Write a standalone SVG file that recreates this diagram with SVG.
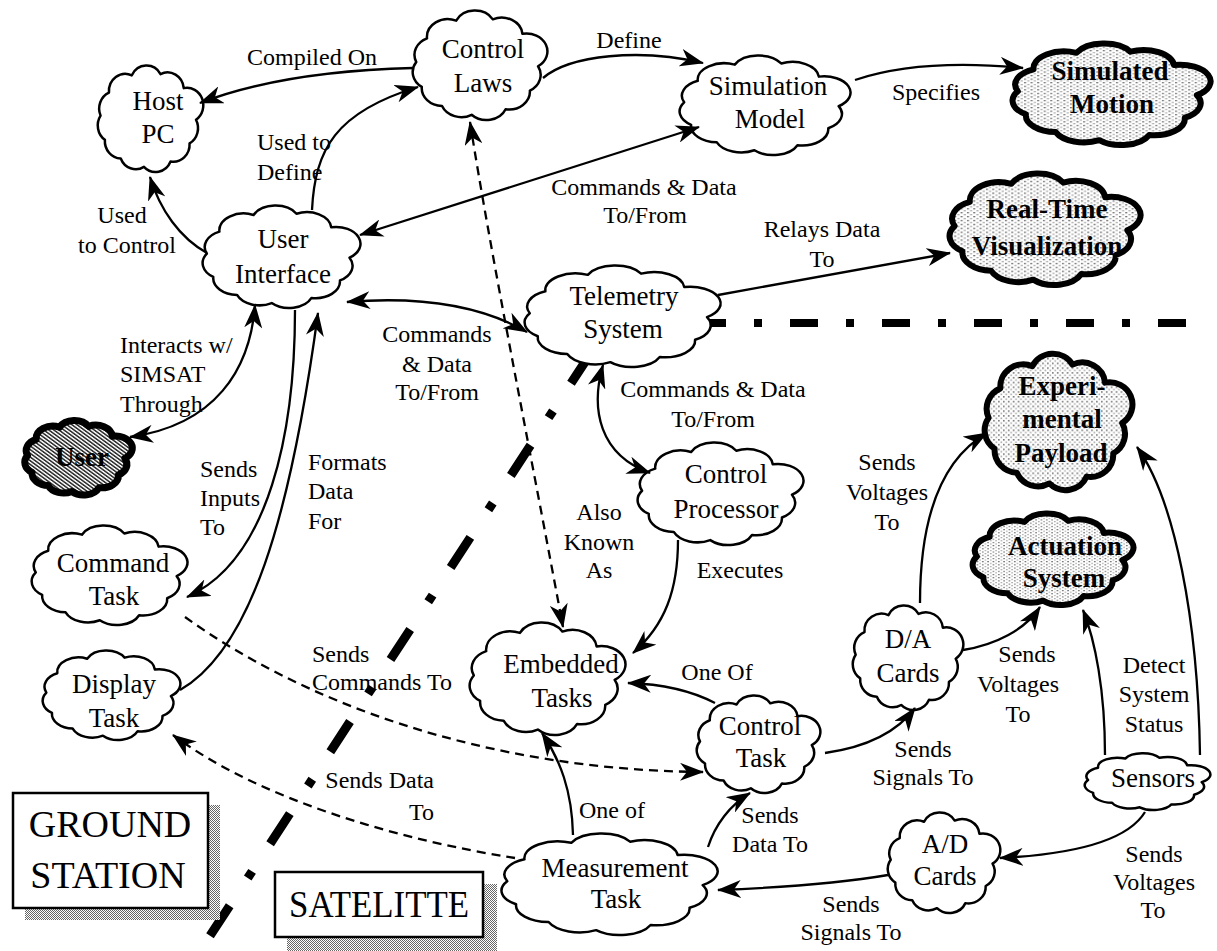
<svg xmlns="http://www.w3.org/2000/svg" xmlns:xlink="http://www.w3.org/1999/xlink" width="1217" height="951" viewBox="0 0 1217 951">
  <style>
    .cl { fill:#fff; stroke:#000; stroke-width:2.5; }
    .cb { fill:url(#stip); stroke:#000; stroke-width:6; }
    .cu { fill:url(#hatch); stroke:#000; stroke-width:7; }
    .c { fill:none; stroke:#000; stroke-width:2.3; }
    .d { stroke-dasharray:9 6; }
    .e { marker-end:url(#ah); }
    .b { marker-start:url(#ah); marker-end:url(#ah); }
    text { font-family:"Liberation Serif", "Times New Roman", serif; fill:#000; }
    .n { font-size:27px; text-anchor:middle; }
    .nb { font-size:27px; font-weight:bold; text-anchor:middle; }
    .l { font-size:24px; text-anchor:middle; }
    .ls { font-size:24px; text-anchor:start; }
    .le { font-size:24px; text-anchor:end; }
    .big { font-size:38px; text-anchor:middle; }
    .box { fill:#fff; stroke:#000; stroke-width:2.5; }
  </style>
  <defs>
    <symbol id="cloud" viewBox="7 6 90 86" preserveAspectRatio="none" overflow="visible">
      <path vector-effect="non-scaling-stroke" stroke-linejoin="round"
        d="M91,50 A14,14 0 0 1 85.5,69 A14,14 0 0 1 69.2,83.6 A14,14 0 0 1 46.4,87.9 A14,14 0 0 1 26.5,81.1 A14,14 0 0 1 12.9,66.1 A14,14 0 0 1 9.2,46.7 A14,14 0 0 1 16.4,28.2 A14,14 0 0 1 36,14.3 A14,14 0 0 1 60.6,13.3 A14,14 0 0 1 80.5,24.6 A14,14 0 0 1 91,50 Z"/>
    </symbol>
    <pattern id="stip" width="3" height="3" patternUnits="userSpaceOnUse">
      <rect width="3" height="3" fill="#fff"/>
      <rect width="1" height="1" fill="#777"/>
      <rect x="1.5" y="1.5" width="1" height="1" fill="#aaa"/>
    </pattern>
    <pattern id="hatch" width="3" height="3" patternUnits="userSpaceOnUse" patternTransform="rotate(-45)">
      <rect width="3" height="3" fill="#fff"/>
      <rect width="1.6" height="3" fill="#333"/>
    </pattern>
    <pattern id="shade" width="2" height="2" patternUnits="userSpaceOnUse">
      <rect width="2" height="2" fill="#fff"/>
      <rect width="1" height="1" fill="#666"/>
      <rect x="1" y="1" width="1" height="1" fill="#666"/>
    </pattern>
    <marker id="ah" viewBox="0 0 24 18" refX="23" refY="9" markerWidth="24" markerHeight="18" markerUnits="userSpaceOnUse" orient="auto-start-reverse">
      <path d="M0,0 L24,9 L0,18 L7,9 Z" fill="#000"/>
    </marker>
  </defs>

  <!-- ground / satellite boundary -->
  <g id="boundary" fill="none" stroke="#000">
    <path d="M698,323 H1190" stroke-width="8" stroke-dasharray="28 28 8 28"/>
    <path d="M590.7,353.2 L210,935.8" stroke-width="9" stroke-dasharray="36 33 8 33"/>
  </g>

  <!-- region labels -->
  <g id="ground-station">
    <rect x="25" y="805" width="195" height="115" fill="url(#shade)"/>
    <rect class="box" x="13" y="793" width="195" height="115"/>
    <text class="big" x="110" y="837">GROUND</text>
    <text class="big" x="108" y="888">STATION</text>
  </g>
  <g id="satellite">
    <rect x="287" y="884" width="210" height="67" fill="url(#shade)"/>
    <rect class="box" x="275" y="872" width="208" height="65"/>
    <text class="big" x="379" y="917" textLength="180" lengthAdjust="spacingAndGlyphs">SATELITTE</text>
  </g>

  <!-- nodes -->
  <g id="host-pc">
    <use href="#cloud" class="cl" x="98" y="65" width="105" height="107"/>
    <text class="n" x="158" y="110">Host</text>
    <text class="n" x="158" y="143">PC</text>
  </g>
  <g id="control-laws">
    <use href="#cloud" class="cl" x="413" y="10" width="134" height="110"/>
    <text class="n" x="483" y="58">Control</text>
    <text class="n" x="483" y="92">Laws</text>
  </g>
  <g id="simulation-model">
    <use href="#cloud" class="cl" x="680" y="55" width="170" height="100"/>
    <text class="n" x="768" y="95">Simulation</text>
    <text class="n" x="770" y="128">Model</text>
  </g>
  <g id="simulated-motion">
    <use href="#cloud" class="cb" x="1013" y="43" width="197" height="102"/>
    <text class="nb" x="1110" y="80">Simulated</text>
    <text class="nb" x="1112" y="113">Motion</text>
  </g>
  <g id="user-interface">
    <use href="#cloud" class="cl" x="203" y="205" width="157" height="103"/>
    <text class="n" x="283" y="248">User</text>
    <text class="n" x="283" y="283">Interface</text>
  </g>
  <g id="real-time-visualization">
    <use href="#cloud" class="cb" x="950" y="173" width="190" height="112"/>
    <text class="nb" x="1047" y="218">Real-Time</text>
    <text class="nb" x="1047" y="255">Visualization</text>
  </g>
  <g id="telemetry-system">
    <use href="#cloud" class="cl" x="525" y="265" width="195" height="102"/>
    <text class="n" x="624" y="305">Telemetry</text>
    <text class="n" x="623" y="338">System</text>
  </g>
  <g id="user">
    <use href="#cloud" class="cu" x="25" y="420" width="107" height="75"/>
    <text class="nb" x="82" y="466" font-size="28">User</text>
  </g>
  <g id="command-task">
    <use href="#cloud" class="cl" x="32" y="525" width="155" height="100"/>
    <text class="n" x="113" y="572">Command</text>
    <text class="n" x="114" y="605">Task</text>
  </g>
  <g id="control-processor">
    <use href="#cloud" class="cl" x="638" y="442" width="165" height="103"/>
    <text class="n" x="726" y="483">Control</text>
    <text class="n" x="726" y="518">Processor</text>
  </g>
  <g id="experimental-payload">
    <use href="#cloud" class="cb" x="985" y="353" width="147" height="137"/>
    <text class="nb" x="1062" y="395">Experi-</text>
    <text class="nb" x="1062" y="428">mental</text>
    <text class="nb" x="1061" y="462">Payload</text>
  </g>
  <g id="actuation-system">
    <use href="#cloud" class="cb" x="973" y="513" width="160" height="92"/>
    <text class="nb" x="1065" y="555">Actuation</text>
    <text class="nb" x="1064" y="587">System</text>
  </g>
  <g id="display-task">
    <use href="#cloud" class="cl" x="43" y="650" width="137" height="90"/>
    <text class="n" x="114" y="693">Display</text>
    <text class="n" x="114" y="727">Task</text>
  </g>
  <g id="embedded-tasks">
    <use href="#cloud" class="cl" x="470" y="622" width="155" height="113"/>
    <text class="n" x="561" y="673">Embedded</text>
    <text class="n" x="562" y="707">Tasks</text>
  </g>
  <g id="da-cards">
    <use href="#cloud" class="cl" x="853" y="605" width="110" height="105"/>
    <text class="n" x="908" y="648">D/A</text>
    <text class="n" x="908" y="682">Cards</text>
  </g>
  <g id="control-task">
    <use href="#cloud" class="cl" x="697" y="695" width="123" height="98"/>
    <text class="n" x="760" y="735">Control</text>
    <text class="n" x="761" y="767">Task</text>
  </g>
  <g id="sensors">
    <use href="#cloud" class="cl" x="1085" y="753" width="125" height="57"/>
    <text class="n" x="1153" y="787">Sensors</text>
  </g>
  <g id="ad-cards">
    <use href="#cloud" class="cl" x="888" y="812" width="112" height="101"/>
    <text class="n" x="945" y="853">A/D</text>
    <text class="n" x="945" y="885">Cards</text>
  </g>
  <g id="measurement-task">
    <use href="#cloud" class="cl" x="502" y="833" width="215" height="102"/>
    <text class="n" x="615" y="877">Measurement</text>
    <text class="n" x="616" y="908">Task</text>
  </g>

  <!-- connectors -->
  <g id="connectors">
    <path class="c e" d="M413,68 C330,70 260,80 200,103"/>
    <path class="c e" d="M543,78 C570,55 640,48 703,63"/>
    <path class="c e" d="M855,80 C900,65 960,62 1023,68"/>
    <path class="c e" d="M312,210 C315,150 335,112 418,87"/>
    <path class="c e" d="M207,253 C180,238 160,210 150,177"/>
    <path class="c b" d="M360,235 L699,127"/>
    <path class="c b" d="M347,302 C420,296 480,305 527,332"/>
    <path class="c e" d="M718,295 L950,253"/>
    <path class="c d b" d="M470,122 C490,250 530,450 563,627"/>
    <path class="c b" d="M255,305 C250,370 215,425 130,437"/>
    <path class="c e" d="M295,310 C295,430 270,560 187,597"/>
    <path class="c e" d="M180,690 C250,650 290,520 318,313"/>
    <path class="c d e" d="M185,617 C300,700 480,770 703,772"/>
    <path class="c d e" d="M515,858 C400,840 260,800 173,735"/>
    <path class="c e" d="M678,540 C678,590 665,625 633,653"/>
    <path class="c e" d="M715,703 C690,690 660,684 628,683"/>
    <path class="c e" d="M573,835 C572,790 560,760 542,733"/>
    <path class="c e" d="M708,847 C715,825 730,805 750,793"/>
    <path class="c b" d="M603,365 C590,410 600,455 650,473"/>
    <path class="c e" d="M825,753 C860,748 895,735 915,708"/>
    <path class="c e" d="M963,650 C995,645 1025,630 1040,607"/>
    <path class="c e" d="M920,603 C920,520 940,460 987,433"/>
    <path class="c e" d="M1105,755 C1105,690 1095,640 1083,610"/>
    <path class="c e" d="M1200,755 C1198,620 1175,500 1137,447"/>
    <path class="c e" d="M1145,812 C1125,845 1060,855 1000,858"/>
    <path class="c e" d="M888,875 C830,885 770,888 718,890"/>
  </g>

  <!-- connector labels -->
  <g id="labels">
    <text class="l" x="312" y="65">Compiled On</text>
    <text class="l" x="629" y="48">Define</text>
    <text class="l" x="936" y="100">Specifies</text>
    <text class="ls" x="257" y="150">Used to</text>
    <text class="ls" x="257" y="180">Define</text>
    <text class="l" x="122" y="223">Used</text>
    <text class="l" x="127" y="253">to Control</text>
    <text class="l" x="644" y="195">Commands &amp; Data</text>
    <text class="l" x="645" y="223">To/From</text>
    <text class="l" x="822" y="237">Relays Data</text>
    <text class="l" x="822" y="267">To</text>
    <text class="l" x="437" y="342">Commands</text>
    <text class="l" x="437" y="372">&amp; Data</text>
    <text class="l" x="437" y="400">To/From</text>
    <text class="l" x="713" y="397">Commands &amp; Data</text>
    <text class="l" x="713" y="427">To/From</text>
    <text class="ls" x="120" y="353">Interacts w/</text>
    <text class="ls" x="120" y="382">SIMSAT</text>
    <text class="ls" x="120" y="412">Through</text>
    <text class="ls" x="200" y="477">Sends</text>
    <text class="ls" x="200" y="506">Inputs</text>
    <text class="ls" x="200" y="535">To</text>
    <text class="ls" x="308" y="470">Formats</text>
    <text class="ls" x="308" y="499">Data</text>
    <text class="ls" x="308" y="529">For</text>
    <text class="l" x="599" y="520">Also</text>
    <text class="l" x="599" y="550">Known</text>
    <text class="l" x="599" y="578">As</text>
    <text class="l" x="740" y="578">Executes</text>
    <text class="l" x="887" y="470">Sends</text>
    <text class="l" x="887" y="500">Voltages</text>
    <text class="l" x="887" y="530">To</text>
    <text class="ls" x="312" y="662">Sends</text>
    <text class="ls" x="312" y="690">Commands To</text>
    <text class="l" x="717" y="680">One Of</text>
    <text class="l" x="1027" y="662">Sends</text>
    <text class="l" x="1018" y="692">Voltages</text>
    <text class="l" x="1018" y="722">To</text>
    <text class="l" x="1154" y="673">Detect</text>
    <text class="l" x="1154" y="702">System</text>
    <text class="l" x="1154" y="732">Status</text>
    <text class="l" x="923" y="757">Sends</text>
    <text class="l" x="923" y="785">Signals To</text>
    <text class="le" x="434" y="788">Sends Data</text>
    <text class="le" x="434" y="820">To</text>
    <text class="l" x="612" y="818">One of</text>
    <text class="l" x="770" y="823">Sends</text>
    <text class="l" x="770" y="852">Data To</text>
    <text class="l" x="1154" y="862">Sends</text>
    <text class="l" x="1154" y="890">Voltages</text>
    <text class="l" x="1153" y="918">To</text>
    <text class="l" x="851" y="912">Sends</text>
    <text class="l" x="851" y="940">Signals To</text>
  </g>
</svg>
